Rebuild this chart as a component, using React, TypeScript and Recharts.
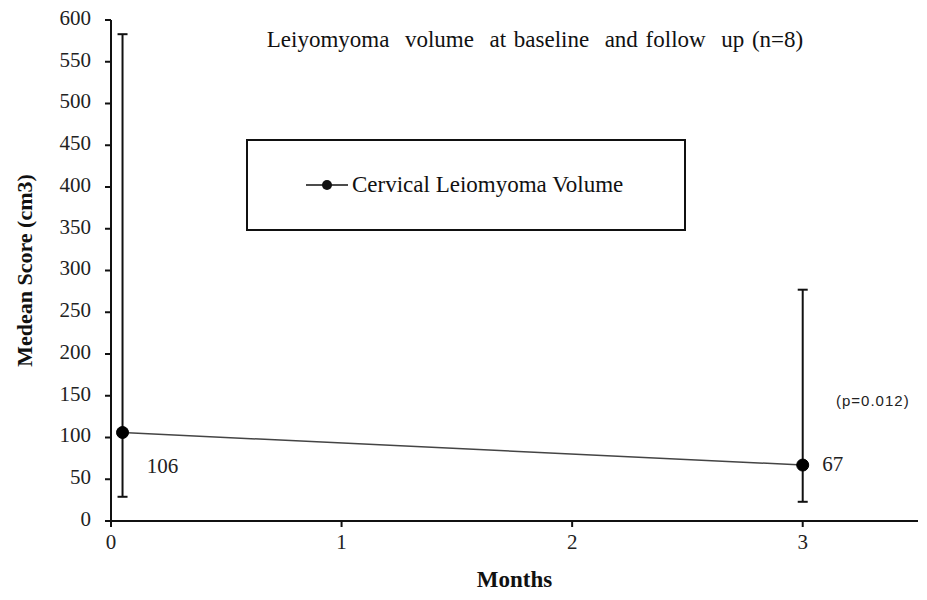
import { LineChart, Line, XAxis, YAxis, ErrorBar, Legend, LabelList } from 'recharts';

const months = [0.05, 3];
const medianVolume = [106, 67];
const lowerBound = [29, 23];
const upperBound = [583, 277];
const valueLabels = ['106', '67'];

const yTicks = [0, 50, 100, 150, 200, 250, 300, 350, 400, 450, 500, 550, 600];
const xTicks = [0, 1, 2, 3];

const data = months.map((m, i) => ({
  month: m,
  volume: medianVolume[i],
  range: [medianVolume[i] - lowerBound[i], upperBound[i] - medianVolume[i]],
  label: valueLabels[i],
}));

const serif = 'Liberation Serif';

const XTick = (props: any) => {
  const { x, y, payload } = props;
  return (
    <text x={x} y={y + 15} fontFamily={serif} fontSize={21} fill='#222' textAnchor='middle' dominantBaseline='middle'>
      {payload.value}
    </text>
  );
};

const YTick = (props: any) => {
  const { x, y, payload } = props;
  return (
    <text x={x - 2} y={y} fontFamily={serif} fontSize={21} fill='#222' textAnchor='end' dominantBaseline='middle'>
      {payload.value}
    </text>
  );
};

const renderValueLabel = (props: any) => {
  const { x, y, value, index } = props;
  const dx = index === 0 ? 40 : 30;
  const dy = index === 0 ? 36 : 1;
  return (
    <text x={x + dx} y={y + dy} fontFamily={serif} fontSize={21} fill='#222' textAnchor='middle' dominantBaseline='middle'>
      {value}
    </text>
  );
};

const renderYLabel = (props: any) => {
  const vb = props.viewBox;
  const cx = vb.x - 24;
  const cy = vb.y + vb.height / 2;
  return (
    <text
      x={cx}
      y={cy}
      transform={`rotate(-90, ${cx}, ${cy})`}
      textAnchor='middle'
      dominantBaseline='middle'
      fontFamily={serif}
      fontSize={22}
      fontWeight='bold'
      fill='#111'>
      Medean Score (cm3)
    </text>
  );
};

const renderLegend = (props: any) => {
  const item = props.payload && props.payload[0];
  return (
    <div
      style={{
        width: 436,
        height: 88,
        border: '2px solid #111',
        display: 'flex',
        alignItems: 'center',
        boxSizing: 'content-box',
      }}>
      <svg width={48} height={14} style={{ marginLeft: 56 }}>
        <line x1={2} y1={7} x2={44} y2={7} stroke='#111' strokeWidth={1.5} />
        <circle cx={23} cy={7} r={5} fill='#111' />
      </svg>
      <span style={{ fontFamily: serif, fontSize: 23, color: '#111' }}>{item ? item.value : ''}</span>
    </div>
  );
};

export default function App() {
  return (
    <div style={{ position: 'relative', width: 927, height: 600, margin: -8, background: '#fff' }}>
      <LineChart
        width={927}
        height={600}
        data={data}
        margin={{ top: 20, right: 9, bottom: 49, left: 51 }}>
        <XAxis
          dataKey='month'
          type='number'
          domain={[0, 3.5]}
          ticks={xTicks}
          height={30}
          tickSize={6}
          axisLine={{ stroke: '#111', strokeWidth: 2 }}
          tickLine={{ stroke: '#111', strokeWidth: 2 }}
          tick={<XTick />}
          label={{
            value: 'Months',
            position: 'bottom',
            offset: 20,
            fill: '#111',
            fontFamily: serif,
            fontSize: 23,
            fontWeight: 'bold',
          }}
        />
        <YAxis
          type='number'
          domain={[0, 600]}
          ticks={yTicks}
          width={60}
          tickSize={6}
          tickMargin={12}
          axisLine={{ stroke: '#111', strokeWidth: 2 }}
          tickLine={{ stroke: '#111', strokeWidth: 2 }}
          tick={<YTick />}
          label={{ content: renderYLabel }}
        />
        <Legend
          layout='horizontal'
          verticalAlign='middle'
          align='center'
          content={renderLegend}
          wrapperStyle={{ position: 'absolute', left: 246, top: 139, width: 440, height: 92 }}
        />
        <Line
          dataKey='volume'
          name='Cervical Leiomyoma Volume'
          stroke='#444'
          strokeWidth={1.5}
          dot={{ r: 6, fill: '#000', stroke: '#000', strokeWidth: 1 }}
          isAnimationActive={false}>
          <ErrorBar dataKey='range' direction='y' width={5} stroke='#111' strokeWidth={2} />
          <LabelList dataKey='label' content={renderValueLabel} />
        </Line>
      </LineChart>
      <div
        style={{
          position: 'absolute',
          left: 0,
          width: 1070,
          top: 27,
          textAlign: 'center',
          fontFamily: serif,
          fontSize: 23,
          wordSpacing: 2,
          color: '#111',
          whiteSpace: 'pre',
        }}>
        {'Leiyomyoma  volume  at baseline  and follow  up (n=8)'}
      </div>
      <div
        style={{
          position: 'absolute',
          left: 836,
          top: 392,
          fontFamily: 'Liberation Sans',
          fontSize: 15,
          letterSpacing: 1,
          color: '#222',
        }}>
        (p=0.012)
      </div>
    </div>
  );
}
